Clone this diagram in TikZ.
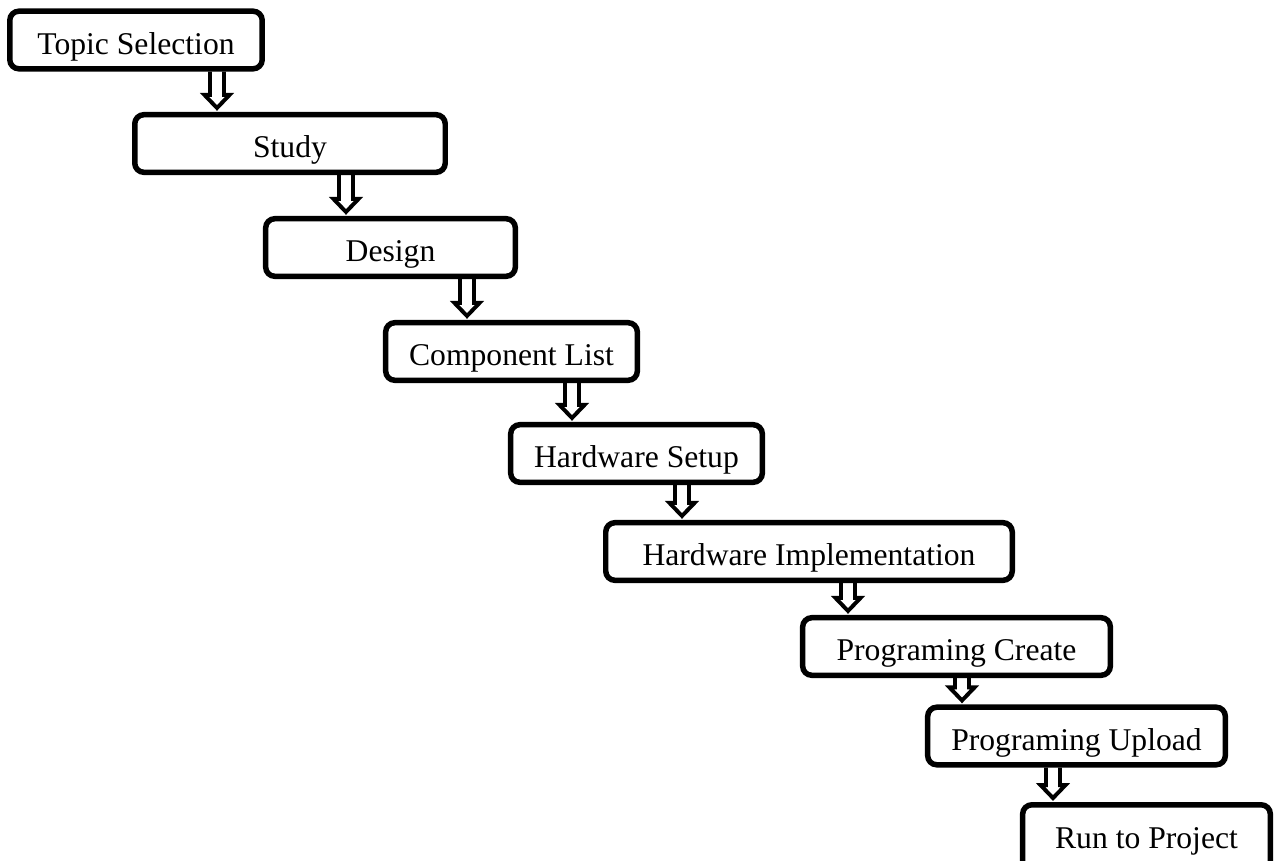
\documentclass[tikz,border=0pt]{standalone}
\usepackage{fontspec}
\setmainfont{Liberation Serif}
\usetikzlibrary{calc}
\tikzset{
  stepbox/.style={draw, line width=3.9pt, rounded corners=0.23cm,
    minimum height=1.44cm, inner sep=0pt,
    text height=0.7cm, text depth=0pt,
    font=\fontsize{22.5}{27}\selectfont},
  blockarrow/.style={draw, line width=2.8pt}
}
\begin{document}
\begin{tikzpicture}[x=0.025cm, y=-0.025cm]
    \useasboundingbox (0,0) rectangle (1283,861);
    % steps of the project
    \foreach \name/\px/\py/\w/\txt in {
        topic/136/40/6.31/Topic Selection,
        study/290/143.5/7.76/Study,
        design/390.5/247.5/6.24/Design,
        parts/511.5/351.5/6.29/Component List,
        hwsetup/636.5/453.5/6.29/Hardware Setup,
        hwimpl/809/551.5/10.16/Hardware Implementation,
        progcreate/956.5/646.5/7.69/Programing Create,
        progupload/1076.5/736/7.44/Programing Upload}{
      \node[stepbox, minimum width=\w cm] (\name) at (\px,\py) {\txt};
    }
    % last step runs off the page
    \node[stepbox, minimum width=6.19cm, minimum height=1.76cm, text height=0.4cm]
      (run) at (1146.5,840) {Run to Project};
    % hollow arrows between the steps
    \foreach \a/\b/\ax in {
        topic/study/217,
        study/design/346,
        design/parts/467,
        parts/hwsetup/572,
        hwsetup/hwimpl/682,
        hwimpl/progcreate/848,
        progcreate/progupload/962,
        progupload/run/1053}{
      \coordinate (s) at (\a.south -| \ax,0);
      \coordinate (t) at (\b.north -| \ax,0);
      \draw[blockarrow] ($(s)+(-7,0)$) -- ($(t)+(-7,-17)$) -- ($(t)+(-12.5,-17)$)
        -- ($(t)+(0,-4)$) -- ($(t)+(12.5,-17)$) -- ($(t)+(7,-17)$) -- ($(s)+(7,0)$);
    }
\end{tikzpicture}
\end{document}
